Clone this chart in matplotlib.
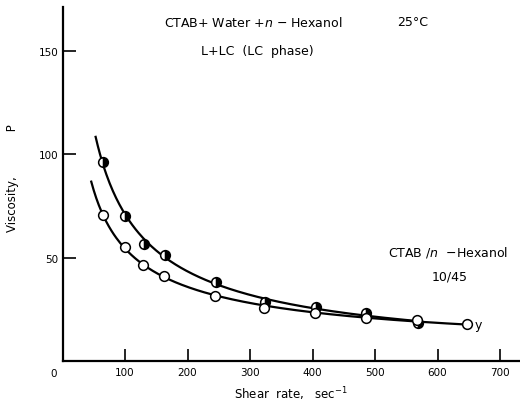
import numpy as np
import matplotlib
matplotlib.use("Agg")
import matplotlib.pyplot as plt

# Data
shear_filled = [65, 100, 131, 164, 245, 324, 405, 486, 569]
visc_filled = [96.5, 70.4, 56.8, 51.4, 38.3, 28.9, 26.5, 23.3, 18.5]
shear_open = [65, 100, 129, 162, 244, 323, 404, 486, 567, 647]
visc_open = [70.9, 55.5, 46.8, 41.2, 31.5, 25.7, 23.4, 21.0, 20.2, 18.0]
curve_start_filled = 53
curve_start_open = 46

xticks = [100, 200, 300, 400, 500, 600, 700]
yticks = [50, 100, 150]
ytick_labels = ["50", "100", "150"]

plt.rcParams['font.family'] = ['DejaVu Sans']

fig = plt.figure(figsize=(5.2, 4.02), dpi=100)
ax = fig.add_axes([0.1202, 0.0983, 0.8774, 0.8806])
ax.set_xlim(0, 730)
ax.set_ylim(0, 171)

def fitted(xs, ys, x0, x1, deg):
    c = np.polyfit(np.log(xs), np.log(ys), deg)
    xx = np.linspace(x0, x1, 300)
    return xx, np.exp(np.polyval(c, np.log(xx)))

xf, yf = fitted(shear_filled, visc_filled, curve_start_filled, max(shear_filled), 2)
xo, yo = fitted(shear_open, visc_open, curve_start_open, max(shear_open), 1)
ax.plot(xf, yf, color='black', lw=1.6, zorder=2)
ax.plot(xo, yo, color='black', lw=1.6, zorder=2)

ax.plot(shear_filled, visc_filled, ls='none', marker='o', ms=7,
        mfc='black', mfcalt='white', fillstyle='right', mec='black', mew=1.1, zorder=3)
ax.plot(shear_open, visc_open, ls='none', marker='o', ms=7,
        mfc='white', mec='black', mew=1.1, zorder=3)

for s in ['top', 'right']:
    ax.spines[s].set_visible(False)
for s in ['left', 'bottom']:
    ax.spines[s].set_linewidth(1.6)

ax.set_xticks(xticks)
ax.set_xticklabels([str(v) for v in xticks])
ax.set_yticks(yticks)
ax.set_yticklabels(ytick_labels)
ax.tick_params(direction='in', length=9, width=1.2, labelsize=7.5, pad=4)
ax.tick_params(axis='y', pad=3)

ax.text(-15, -5.5, "0", fontsize=7.5, ha='center', va='center', clip_on=False)

ax.set_xlabel("Shear  rate,   sec$^{-1}$", fontsize=8.5, labelpad=5)
ax.set_ylabel("Viscosity,            P", fontsize=8.5, labelpad=13)
ax.yaxis.set_label_coords(-0.095, 0.52)

ax.text(162, 164, "CTAB+ Water +$n$ − Hexanol", fontsize=9, ha='left', va='center')
ax.text(535, 164, "25°C", fontsize=9, ha='left', va='center')
ax.text(221, 150, "L+LC  (LC  phase)", fontsize=9, ha='left', va='center')
ax.text(521, 53, "CTAB /$n$  −Hexanol", fontsize=9, ha='left', va='center')
ax.text(620, 41.5, "10/45", fontsize=9, ha='center', va='center')
ax.text(660, 18, "y", fontsize=9, ha='left', va='center')

fig.savefig("out.png", dpi=100)
